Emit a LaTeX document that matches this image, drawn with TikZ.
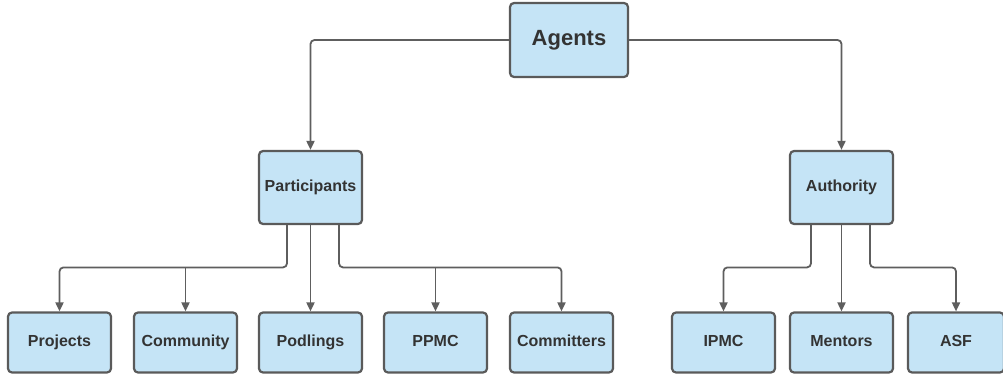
\documentclass[tikz,border=0pt]{standalone}
\usepackage{fontspec}
\setmainfont{Liberation Sans}
\usetikzlibrary{arrows.meta,calc}
\definecolor{boxfill}{HTML}{C5E4F6}
\definecolor{boxdraw}{HTML}{5A5A5A}
\definecolor{txt}{HTML}{333333}
\definecolor{linec}{HTML}{5E5E5E}
\begin{document}
\begin{tikzpicture}[x=1pt,y=-1pt,
  box/.style={draw=boxdraw,fill=boxfill,line width=2.2pt,rounded corners=4pt,
    text=txt,font=\bfseries\fontsize{16}{18}\selectfont,inner sep=0pt,
    text height=11.5pt,text depth=3.5pt,
    minimum width=103pt,minimum height=60pt},
  midbox/.style={box,minimum height=73pt},
  topbox/.style={box,minimum width=118pt,minimum height=74pt,
    text height=16pt,text depth=4.5pt,font=\bfseries\fontsize{22}{24}\selectfont},
  conn/.style={draw=linec,line width=1.8pt,rounded corners=4pt,
    -{Triangle[length=9pt,width=8pt]}}]
\useasboundingbox (0,0) rectangle (1003,377);
\node[topbox] (agents) at (569,40) {Agents};
\node[midbox] (part) at (310.5,187.5) {Participants};
\node[midbox] (auth) at (841.5,187.5) {Authority};
\node[box] (proj) at (59.5,342.5) {Projects};
\node[box] (comm) at (185.5,342.5) {Community};
\node[box] (pod) at (310.5,342.5) {Podlings};
\node[box] (ppmc) at (435.5,342.5) {PPMC};
\node[box] (comt) at (561.5,342.5) {Committers};
\node[box] (ipmc) at (723.5,342.5) {IPMC};
\node[box] (ment) at (841.5,342.5) {Mentors};
\node[box,minimum width=96pt] (asf) at (956,342.5) {ASF};
\draw[conn] (agents.west) -| (part.north);
\draw[conn] (agents.east) -| (auth.north);
% participants branches
\draw[conn] ([xshift=-23.5pt]part.south) |- ($(proj.north)+(0,-44)$) -- (proj.north);
\draw[conn] ($(comm.north)+(0,-44)$) -- (comm.north);
\draw[conn] (part.south) -- (pod.north);
\draw[conn] ([xshift=28.5pt]part.south) |- ($(comt.north)+(0,-44)$) -- (comt.north);
\draw[conn] ($(ppmc.north)+(0,-44)$) -- (ppmc.north);
% authority branches
\draw[conn] ([xshift=-30.5pt]auth.south) |- ($(ipmc.north)+(0,-44)$) -- (ipmc.north);
\draw[conn] (auth.south) -- (ment.north);
\draw[conn] ([xshift=28.5pt]auth.south) |- ($(asf.north)+(0,-44)$) -- (asf.north);
\end{tikzpicture}
\end{document}
